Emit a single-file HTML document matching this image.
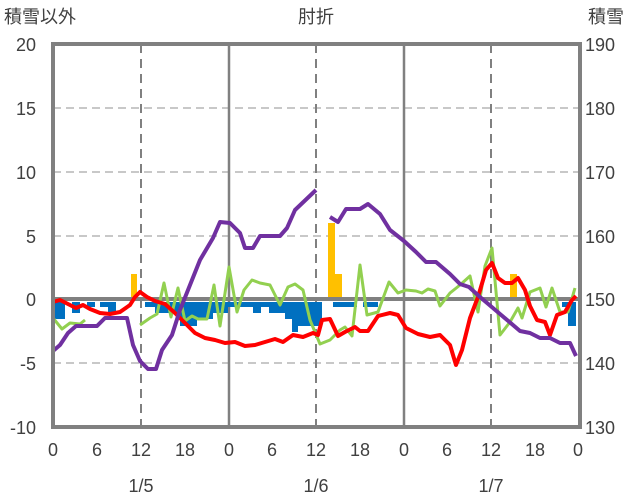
<!DOCTYPE html><html><head><meta charset="utf-8"><style>body{margin:0;background:#fff}svg{display:block;font-family:"Liberation Sans","Noto Sans CJK JP",sans-serif}</style></head><body>
<svg width="636" height="501" viewBox="0 0 636 501">
<g stroke="#c8c8c8" stroke-width="2" stroke-dasharray="8,5">
<line x1="53" y1="108" x2="580" y2="108"/><line x1="53" y1="172" x2="580" y2="172"/><line x1="53" y1="236" x2="580" y2="236"/><line x1="53" y1="363" x2="580" y2="363"/></g>
<g stroke="#808080" stroke-width="2" stroke-dasharray="9,6"><line x1="141" y1="44" x2="141" y2="427"/><line x1="316" y1="44" x2="316" y2="427"/><line x1="491" y1="44" x2="491" y2="427"/></g>
<g stroke="#808080" stroke-width="2.5"><line x1="229" y1="44" x2="229" y2="427"/><line x1="404" y1="44" x2="404" y2="427"/></g>
<g fill="#0070c0">
<rect x="53" y="302" width="12" height="17"/><rect x="72" y="302" width="8" height="11"/><rect x="87" y="302" width="8" height="5"/><rect x="100" y="302" width="16" height="5"/><rect x="108" y="302" width="8" height="11"/>
<rect x="145" y="302" width="10" height="5"/><rect x="155" y="302" width="25" height="11"/><rect x="180" y="302" width="17" height="24"/><rect x="197" y="302" width="16" height="17"/><rect x="213" y="302" width="15" height="11"/><rect x="228" y="302" width="25" height="5"/><rect x="253" y="302" width="8" height="11"/><rect x="261" y="302" width="8" height="5"/><rect x="269" y="302" width="16" height="11"/><rect x="285" y="302" width="7" height="17"/><rect x="292" y="302" width="6" height="30"/><rect x="298" y="302" width="24" height="24"/>
<rect x="333" y="302" width="24" height="5"/><rect x="363" y="302" width="15" height="5"/><rect x="562" y="302" width="6" height="5"/><rect x="568" y="302" width="8" height="24"/></g>
<g fill="#ffc000"><rect x="131" y="274" width="6" height="25"/><rect x="328" y="223" width="7" height="76"/><rect x="335" y="274" width="7" height="25"/><rect x="510" y="274" width="7" height="25"/></g>
<line x1="53" y1="299" x2="580" y2="299" stroke="#808080" stroke-width="4"/>
<g fill="none" stroke-width="3" stroke-linejoin="round" stroke="#92d050">
<polyline points="53,318 62,329 70,323 80,324 85,320"/>
<polyline points="140,325 150,318 157,314 164,283 171,317 178,288 185,321 192,316 198,319 207,319 214,285 220,326 229,267 237,312 244,290 252,280 260,283 270,285 280,305 288,287 295,284 303,290 310,320 320,344 330,340 340,330 345,327 352,336 360,265 367,315 378,312 389,282 398,293 406,290 416,291 422,293 428,289 435,291 440,306 450,293 460,285 470,276 478,312 485,266 492,248 500,335 510,322 518,308 522,318 530,292 540,288 546,307 552,288 560,312 568,312 575,288"/></g>
<g fill="none" stroke-width="4" stroke-linejoin="round" stroke="#ff0000">
<polyline points="53,302 60,300 68,304 76,308 83,305 90,309 100,313 110,314 120,312 130,305 135,297 140,292 147,297 155,301 165,304 175,313 185,323 195,333 205,338 215,340 225,343 235,342 245,346 255,345 265,342 275,339 283,342 293,335 303,337 313,333 318,335 322,320 330,319 338,336 345,332 355,327 360,331 368,331 378,316 390,313 398,315 406,328 418,334 430,337 440,335 450,345 456,365 462,350 470,318 478,297 486,270 492,263 498,278 505,283 512,283 518,278 525,290 530,306 537,320 545,322 550,335 557,315 565,312 572,300 576,296"/></g>
<g fill="none" stroke-width="4" stroke-linejoin="round" stroke="#7030a0">
<polyline points="53,351 60,345 68,333 76,326 97,326 105,318 127,318 133,345 140,361 148,369 156,369 162,350 172,335 180,310 190,285 200,260 213,238 220,222 230,223 240,233 245,248 253,248 260,236 280,236 287,228 295,210 316,190"/>
<polyline points="330,217 338,222 346,209 360,209 368,204 380,214 390,230 404,241 416,252 426,262 436,262 450,274 460,284 469,287 480,297 500,314 520,331 530,333 540,338 550,338 560,343 570,343 576,356"/></g>
<rect x="53" y="44" width="527" height="383" fill="none" stroke="#808080" stroke-width="4"/>
<g font-size="18" fill="#404040" text-anchor="end">
<text x="36" y="51">20</text><text x="36" y="115">15</text><text x="36" y="179">10</text><text x="36" y="243">5</text><text x="36" y="306">0</text><text x="36" y="370">-5</text><text x="36" y="434">-10</text></g>
<g font-size="18" fill="#404040" text-anchor="start">
<text x="585" y="51">190</text><text x="585" y="115">180</text><text x="585" y="179">170</text><text x="585" y="243">160</text><text x="585" y="306">150</text><text x="585" y="370">140</text><text x="585" y="434">130</text></g>
<g font-size="18" fill="#404040" text-anchor="middle">
<text x="53" y="456">0</text><text x="97" y="456">6</text><text x="141" y="456">12</text><text x="185" y="456">18</text><text x="229" y="456">0</text><text x="272" y="456">6</text><text x="316" y="456">12</text><text x="360" y="456">18</text><text x="404" y="456">0</text><text x="447" y="456">6</text><text x="491" y="456">12</text><text x="535" y="456">18</text><text x="578" y="456">0</text>
<text x="141" y="492">1/5</text><text x="316" y="492">1/6</text><text x="491" y="492">1/7</text>
<text x="316" y="23">肘折</text></g>
<text x="4" y="23" font-size="18" fill="#404040">積雪以外</text>
<text x="588" y="23" font-size="18" fill="#404040">積雪</text>
</svg></body></html>
